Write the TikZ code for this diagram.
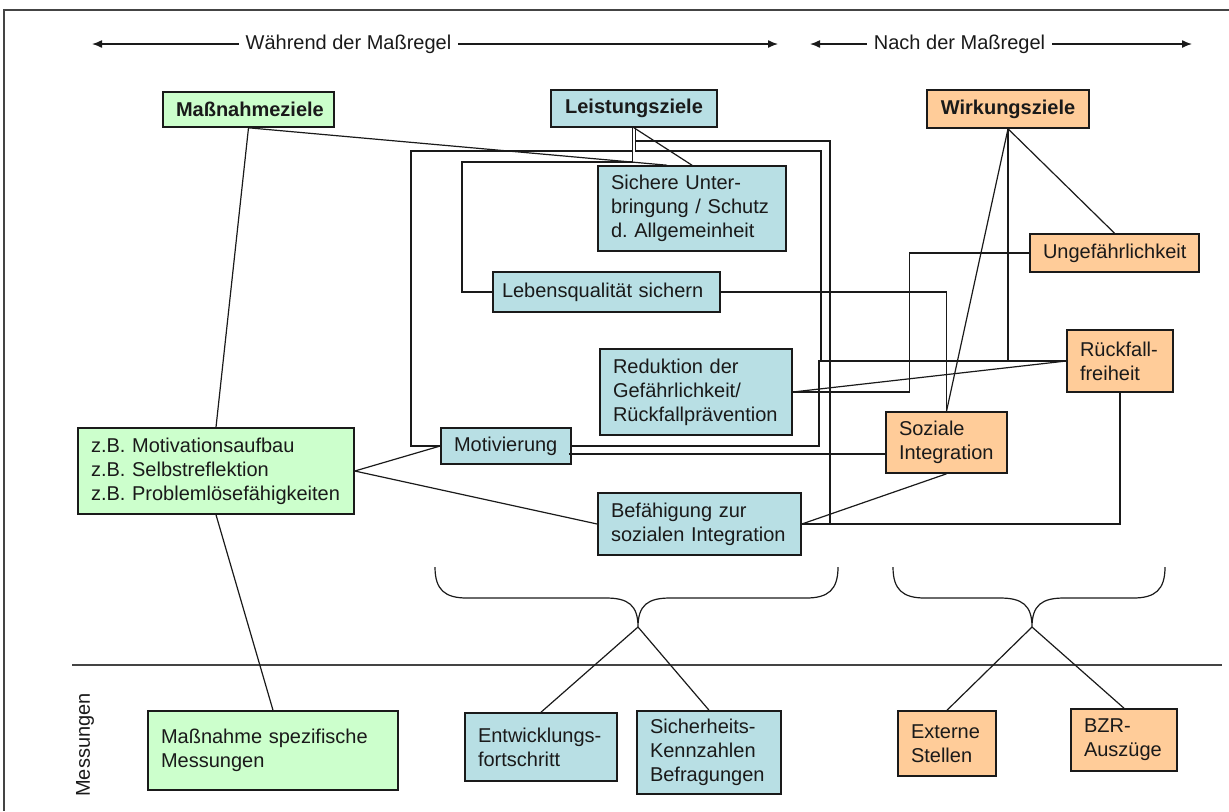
\documentclass[tikz,border=0pt]{standalone}
\usepackage{fontspec}
\setmainfont{Liberation Sans}
\usetikzlibrary{calc,arrows.meta}
\definecolor{gruen}{HTML}{CCFFCC}
\definecolor{blau}{HTML}{B8DFE4}
\definecolor{apricot}{HTML}{FFCC99}
\definecolor{linie}{HTML}{1A1A1A}
\definecolor{trenn}{HTML}{444444}
\tikzset{
  box/.style={draw=linie, line width=0.8pt, inner xsep=6.5pt, inner ysep=2pt, align=left, text=linie, font=\fontsize{10}{12}\selectfont},
  kopf/.style={box, align=center, font=\fontsize{10}{12}\selectfont\bfseries},
  verb/.style={draw=linie, line width=0.6pt},
  pfeil/.style={draw=linie, line width=0.7pt, -{Latex[length=5pt,width=4pt]}},
  txt/.style={text=linie, font=\fontsize{10}{12}\selectfont},
}
\frenchspacing

\begin{document}
\begin{tikzpicture}[x=0.5pt,y=-0.5pt]
  \useasboundingbox (0,0) rectangle (1229,811);
  \draw[trenn, line width=1pt] (1229,10) -- (4,10) -- (4,811);
  \draw[trenn, line width=1pt] (72,665) -- (1222,665);

  \node[txt] (waehrend) at (348.5,44) {Während der Maßregel};
  \node[txt] (nach) at (959.5,44) {Nach der Maßregel};
  \coordinate (w1) at (92,44);
  \coordinate (w2) at (778,44);
  \coordinate (n1) at (810,44);
  \coordinate (n2) at (1192,44);
  \draw[pfeil] (waehrend.west) -- (w1);
  \draw[pfeil] (waehrend.east) -- (w2);
  \draw[pfeil] (nach.west) -- (n1);
  \draw[pfeil] (nach.east) -- (n2);

  \node[kopf, fill=gruen, text width=72.5pt, minimum height=17.5pt] (massziel) at (248.5,109.5) {Maßnahmeziele};
  \node[kopf, fill=blau, text width=70pt, minimum height=18.5pt] (leistziel) at (634,108.5) {Leistungsziele};
  \node[kopf, fill=apricot, text width=68pt, minimum height=19pt] (wirkziel) at (1008,109) {Wirkungsziele};

  \node[box, fill=blau, text width=81pt, minimum height=42.5pt] (sicher) at (692,208.5) {Sichere Unter-\\bringung / Schutz\\d. Allgemeinheit};
  \node[box, fill=blau, inner xsep=4.5pt, text width=104.5pt, minimum height=20pt] (lebens) at (606.5,292) {Lebensqualität sichern};
  \node[box, fill=blau, text width=83pt, minimum height=43pt] (redukt) at (696,392) {Reduktion der\\Gefährlichkeit/\\Rückfallprävention};
  \node[box, fill=blau, text width=52pt, minimum height=18pt] (motiv) at (506,446) {Motivierung};
  \node[box, fill=blau, text width=88.5pt, minimum height=31pt] (befaeh) at (699.5,524) {Befähigung zur\\sozialen Integration};

  \node[box, fill=apricot, text width=71.5pt, minimum height=19pt] (ungef) at (1114.5,253) {Ungefährlichkeit};
  \node[box, fill=apricot, text width=40pt, minimum height=31pt] (rueck) at (1120,361) {Rückfall-\\freiheit};
  \node[box, fill=apricot, text width=47.5pt, minimum height=30.5pt] (sozial) at (946.5,442.5) {Soziale\\Integration};

  \node[box, fill=gruen, text width=125pt, minimum height=43pt] (beisp) at (216,471) {z.B. Motivationsaufbau\\z.B. Selbstreflektion\\z.B. Problemlösefähigkeiten};

  \node[txt, rotate=90] (messungen) at (85,745) {Messungen};
  \node[box, fill=gruen, text width=112pt, minimum height=39.5pt] (messmass) at (273,750.5) {Maßnahme spezifische\\Messungen};
  \node[box, fill=blau, text width=63pt, minimum height=34pt] (entw) at (541,747) {Entwicklungs-\\fortschritt};
  \node[box, fill=blau, text width=59pt, minimum height=41.5pt] (sicherh) at (709,752.5) {Sicherheits-\\Kennzahlen\\Befragungen};
  \node[box, fill=apricot, text width=36pt, minimum height=32.5pt] (extern) at (947,743.5) {Externe\\Stellen};
  \node[box, fill=apricot, text width=40pt, minimum height=31pt] (bzr) at (1124,740) {BZR-\\Auszüge};

  \coordinate (la) at ($(leistziel.south)+(-1.5,0)$);
  \coordinate (lb) at ($(leistziel.south)+(1.5,0)$);
  \draw[verb] (la) |- (462,162) |- (lebens.west);
  \draw[verb] (la) |- (411,151) |- (motiv.west);
  \draw[verb] (lb) |- (830,141) |- (befaeh.east);
  \draw[verb] (lb) |- (821,151) |- (rueck.west);
  \draw[verb] (leistziel.south) -- (sicher.north);
  \draw[verb] (massziel.south) -- ([xshift=-12.5pt]sicher.north);
  \draw[verb] (massziel.south) -- (beisp.north);
  \draw[verb] (beisp.south) -- (messmass.north);
  \draw[verb] (beisp.east) -- (motiv.west);
  \draw[verb] (beisp.east) -- (befaeh.west);
  \draw[verb] (motiv.east) -| (819,361) -- (rueck.west);
  \draw[verb] ($(motiv.east)+(-3,8)$) coordinate (m8) -- (m8 -| sozial.west);
  \draw[verb] (lebens.east) -| (sozial.north);
  \draw[verb] (wirkziel.south) -- (sozial.north);
  \draw[verb] (wirkziel.south) |- (rueck.west);
  \draw[verb] (wirkziel.south) -- (ungef.north);
  \draw[verb] (redukt.east) -| ([xshift=-60pt]ungef.west) -- (ungef.west);
  \draw[verb] (redukt.east) -- (rueck.west);
  \draw[verb] (befaeh.east) -| (rueck.south);
  \draw[verb] (sozial.south) -- (befaeh.east);

  \coordinate (spitzeL) at (638,627);
  \coordinate (spitzeR) at (1032,627);
  \foreach \a/\b/\m in {435/838/638, 893/1165/1032}{
    \draw[verb] (\a,567) .. controls (\a,590) and (\a+10,598) .. (\a+32,598)
      -- (\m-32,598) .. controls (\m-10,598) and (\m,605) .. (\m,627)
      .. controls (\m,605) and (\m+10,598) .. (\m+32,598)
      -- (\b-32,598) .. controls (\b-10,598) and (\b,590) .. (\b,567);
  }
  \draw[verb] (spitzeL) -- (entw.north);
  \draw[verb] (spitzeL) -- (sicherh.north);
  \draw[verb] (spitzeR) -- (extern.north);
  \draw[verb] (spitzeR) -- (bzr.north);
\end{tikzpicture}
\end{document}
